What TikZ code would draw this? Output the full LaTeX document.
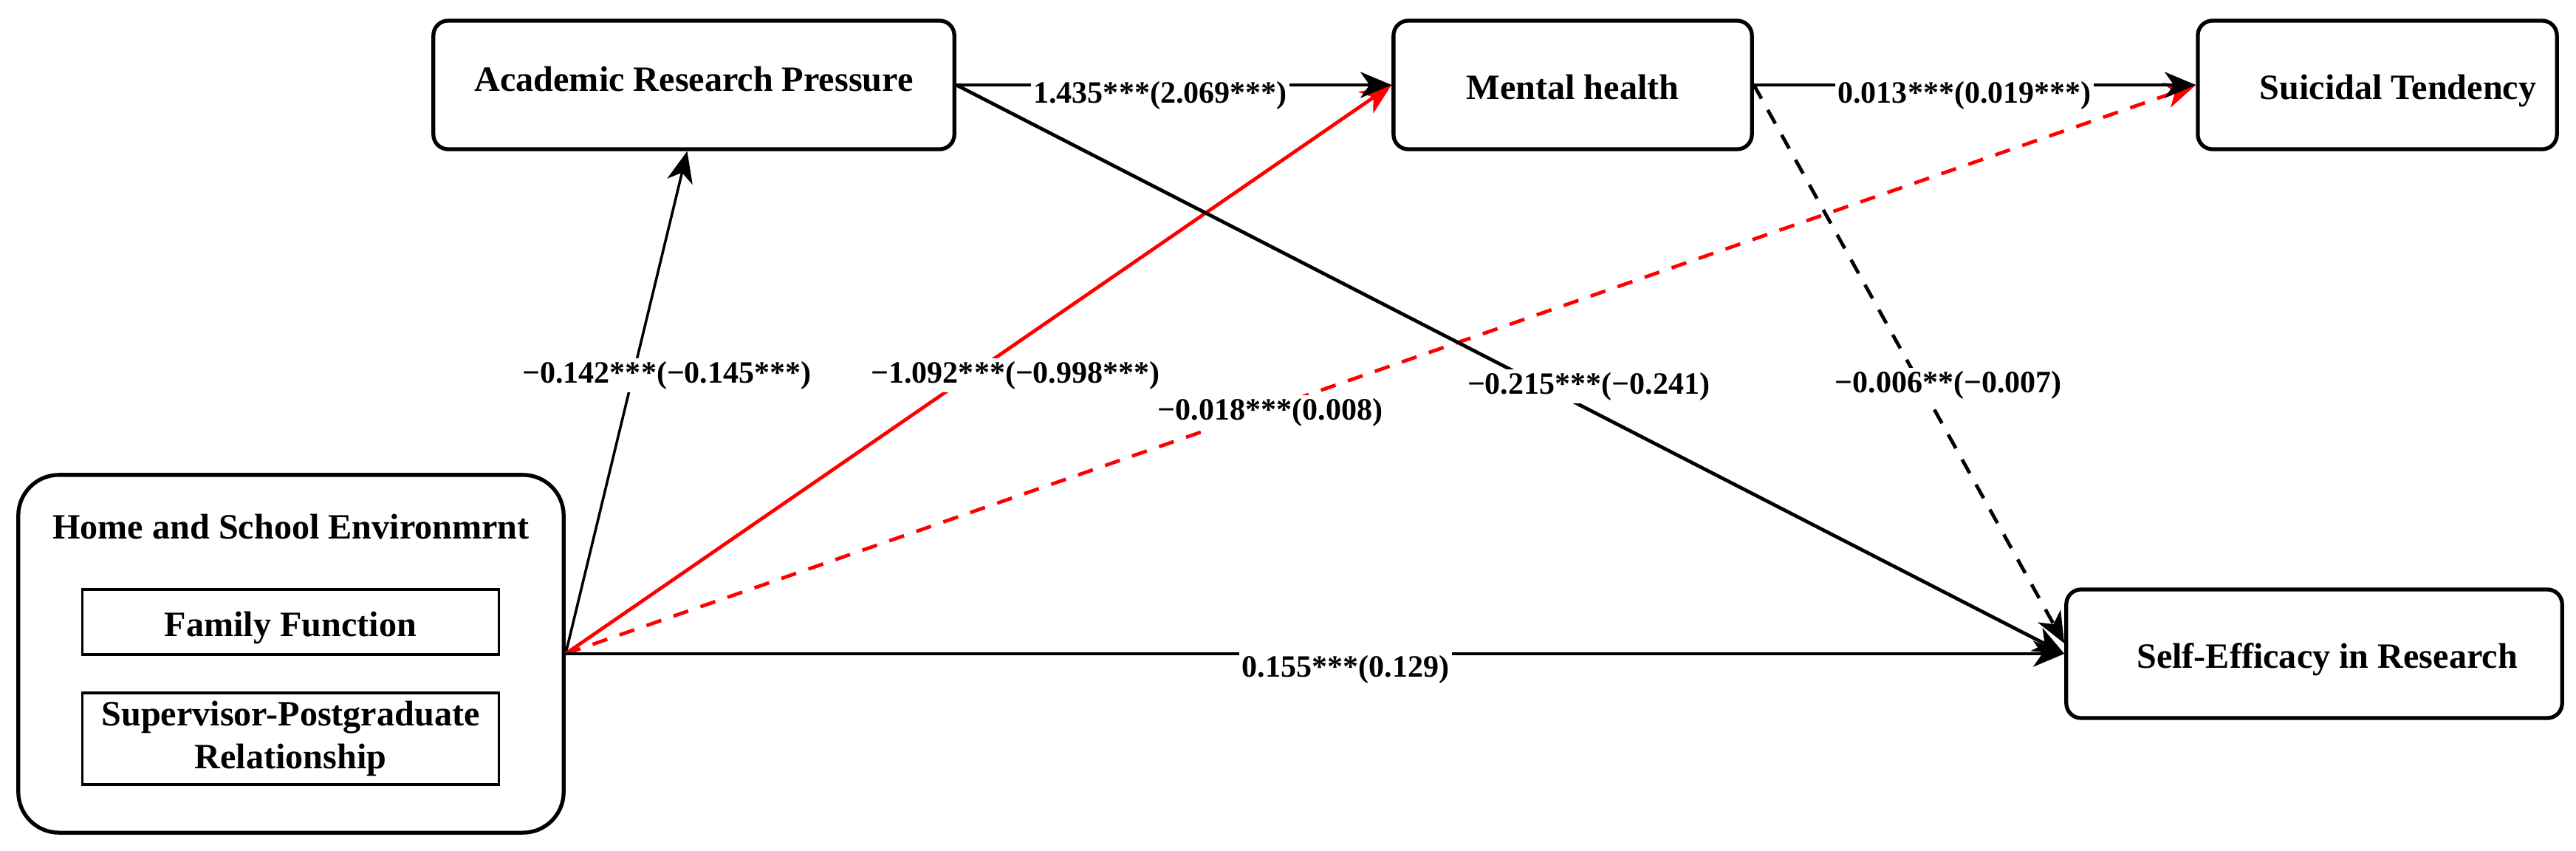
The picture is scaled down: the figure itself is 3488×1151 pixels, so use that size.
\documentclass[tikz,border=0pt]{standalone}
\usepackage{fontspec}
\setmainfont{Liberation Serif}
\usetikzlibrary{arrows.meta}
\newcommand\myboxfont{\fontsize{13.7pt}{16.5pt}\selectfont\bfseries}
\newcommand\mylabfont{\fontsize{11.95pt}{14pt}\selectfont\bfseries}
\begin{document}
\begin{tikzpicture}[x=0.01cm,y=-0.01cm,
  box/.style={draw, line width=1.5pt, rounded corners=0.2cm, fill=white, inner sep=0pt,
    font=\myboxfont, text height=13pt, text depth=2pt, align=center},
  outerbox/.style={draw, line width=1.5pt, rounded corners=0.55cm, fill=white, inner sep=0pt},
  innerbox/.style={draw, line width=0.9pt, fill=white, inner sep=0pt,
    font=\myboxfont, align=center},
  conn/.style={line width=1.35pt, -{Stealth[length=12pt, width=10pt, inset=3.5pt]}},
  thinconn/.style={line width=1pt, -{Stealth[length=12pt, width=10pt, inset=3.5pt]}},
  dsh/.style={dash pattern=on 6pt off 5pt},
  lab/.style={fill=white, inner xsep=1pt, inner ysep=1pt, font=\mylabfont}]
\useasboundingbox (0,0) rectangle (3488,1151);
\fill[white] (0,0) rectangle (3488,1151);

% boxes
\node[box, minimum width=7.05cm, minimum height=1.74cm, text height=7pt] (ARP) at (939.5,115) {Academic Research Pressure};
\node[box, minimum width=4.85cm, minimum height=1.74cm] (MH) at (2129.5,115) {Mental health};
\node[box, minimum width=4.86cm, minimum height=1.74cm] (ST) at (3219,115) {\hspace*{0.56cm}Suicidal Tendency};
\node[box, minimum width=6.71cm, minimum height=1.74cm] (SE) at (3133.5,885) {\hspace*{0.35cm}Self-Efficacy in Research};
\node[outerbox, minimum width=7.38cm, minimum height=4.84cm] (Home) at (394,885) {};
\node[anchor=base, font=\myboxfont, inner sep=0pt] (HomeT) at (394,729) {Home and School Environmrnt};
\node[innerbox, minimum width=5.63cm, minimum height=0.88cm, text height=13pt, text depth=2pt] (FF) at (393.5,842) {Family Function};
\node[innerbox, minimum width=5.63cm, minimum height=1.24cm] (SP) at (393.5,1000) {Supervisor-Postgraduate\\Relationship};

% connectors
\draw[thinconn] (Home.east) -- ([xshift=-0.09cm]ARP.south);
\draw[conn, red] (Home.east) -- (MH.west);
\draw[conn, red, dsh] (Home.east) -- (ST.west);
\draw[conn] (Home.east) -- (SE.west);
\draw[conn] (ARP.east) -- (MH.west);
\draw[conn] (ARP.east) -- (SE.west);
\draw[conn] (MH.east) -- (ST.west);
\draw[conn, dsh] (MH.east) -- ([yshift=0.14cm]SE.west);

% labels
\node[lab] (l1) at (903,508) {−0.142***(−0.145***)};
\node[lab] (l2) at (1375,508) {−1.092***(−0.998***)};
\node[lab] (l3) at (1720,558) {−0.018***(0.008)};
\node[lab] (l4) at (2151,523) {−0.215***(−0.241)};
\node[lab] (l5) at (2638,521) {−0.006**(−0.007)};
\node[lab] (l6) at (1822,906) {0.155***(0.129)};
\node[lab] (l7) at (1571,129) {1.435***(2.069***)};
\node[lab] (l8) at (2660,129) {0.013***(0.019***)};
\end{tikzpicture}
\end{document}
